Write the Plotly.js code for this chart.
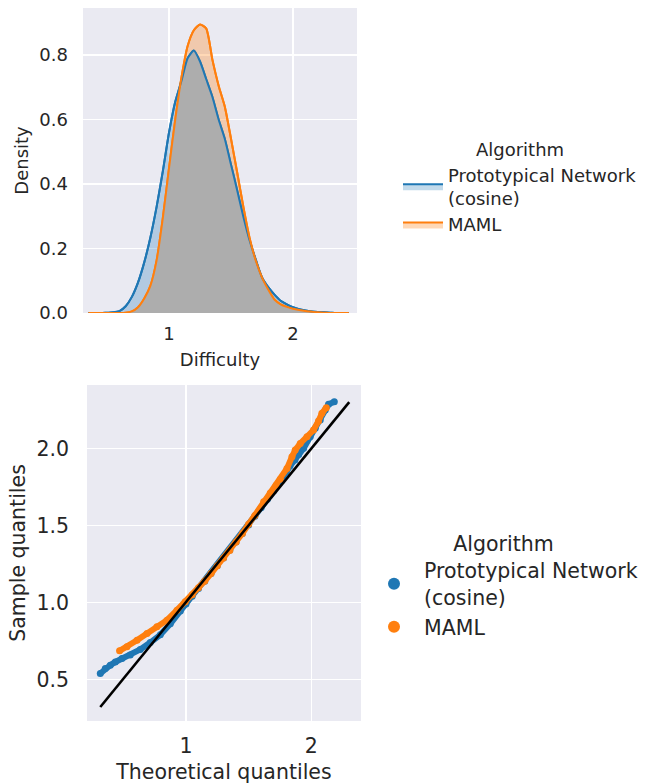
<!DOCTYPE html>
<html><head><meta charset="utf-8">
<script src="https://cdn.plot.ly/plotly-3.0.1.min.js"></script>
<style>html,body{margin:0;padding:0;background:#fff}</style>
</head><body><div id="chart" style="width:650px;height:784px"></div>
<script>
// ---- Top panel: KDE of difficulty ----
const difficultyGrid = [0.35,0.40,0.45,0.50,0.55,0.60,0.65,0.70,0.75,0.80,0.85,0.90,0.95,1.00,1.05,1.10,1.15,1.20,1.25,1.30,1.35,1.40,1.45,1.50,1.55,1.60,1.65,1.70,1.75,1.80,1.85,1.90,1.95,2.00,2.05,2.10,2.15,2.20,2.25,2.30,2.35,2.40,2.45];
const protoDensity = [0.000,0.000,0.000,0.001,0.002,0.006,0.021,0.050,0.095,0.157,0.235,0.330,0.440,0.560,0.655,0.720,0.790,0.814,0.780,0.725,0.670,0.600,0.540,0.460,0.380,0.298,0.225,0.165,0.110,0.080,0.057,0.038,0.027,0.018,0.012,0.008,0.005,0.003,0.002,0.001,0.000,0.000,0.000];
const mamlDensity  = [0.000,0.000,0.000,0.000,0.000,0.000,0.001,0.005,0.018,0.045,0.085,0.164,0.295,0.450,0.600,0.730,0.828,0.877,0.895,0.882,0.785,0.705,0.640,0.540,0.435,0.328,0.232,0.162,0.110,0.073,0.042,0.027,0.019,0.013,0.009,0.006,0.004,0.002,0.001,0.000,0.000,0.000,0.000];

// ---- Bottom panel: Q-Q plot ----
const protoTheoretical = [0.316,0.356,0.396,0.436,0.489,0.555,0.635,0.715,0.795,0.875,0.955,1.00,1.05,1.10,1.15,1.20,1.25,1.30,1.35,1.40,1.45,1.50,1.55,1.60,1.65,1.70,1.75,1.80,1.83,1.87,1.90,1.939,1.992,2.032,2.072,2.112,2.138,2.184];
const protoSample      = [0.539,0.571,0.593,0.614,0.636,0.660,0.695,0.740,0.790,0.862,0.945,0.990,1.040,1.090,1.138,1.188,1.238,1.288,1.340,1.392,1.447,1.503,1.560,1.615,1.670,1.725,1.780,1.845,1.885,1.925,1.960,2.000,2.075,2.130,2.184,2.249,2.286,2.303];
const mamlTheoretical  = [0.47,0.529,0.609,0.689,0.768,0.848,0.928,0.994,1.05,1.10,1.15,1.20,1.25,1.30,1.35,1.40,1.45,1.50,1.55,1.62,1.673,1.72,1.753,1.806,1.846,1.872,1.912,1.966,2.018,2.058,2.085,2.12];
const mamlSample       = [0.686,0.712,0.755,0.799,0.842,0.885,0.950,1.004,1.050,1.095,1.140,1.188,1.238,1.288,1.338,1.392,1.448,1.508,1.565,1.653,1.710,1.760,1.800,1.870,1.945,1.989,2.032,2.075,2.119,2.177,2.227,2.264];
const refLineX = [0.316, 2.303];
const refLineY = [0.322, 2.300];

const seriesNames = ['Prototypical Network<br>(cosine)', 'MAML'];
const legendTitle = 'Algorithm';

const BLUE = '#1f77b4', ORANGE = '#ff7f0e';
const overlap = protoDensity.map((v, i) => Math.min(v, mamlDensity[i]));
const SPL = {shape: 'spline', smoothing: 0.6};

const traces = [
  {x: difficultyGrid, y: protoDensity, type: 'scatter', mode: 'lines', fill: 'tozeroy', name: seriesNames[0],
   fillcolor: 'rgba(31,119,180,0.27)', line: Object.assign({color: BLUE, width: 2}, SPL), legend: 'legend', xaxis: 'x', yaxis: 'y'},
  {x: difficultyGrid, y: mamlDensity, type: 'scatter', mode: 'lines', fill: 'tozeroy', name: seriesNames[1],
   fillcolor: 'rgba(255,127,14,0.3)', line: Object.assign({color: ORANGE, width: 2}, SPL), legend: 'legend', xaxis: 'x', yaxis: 'y'},
  {x: difficultyGrid, y: overlap, type: 'scatter', mode: 'none', fill: 'tozeroy',
   fillcolor: 'rgb(173,173,173)', line: SPL, showlegend: false, hoverinfo: 'skip', xaxis: 'x', yaxis: 'y'},
  {x: difficultyGrid, y: protoDensity, type: 'scatter', mode: 'lines', showlegend: false,
   line: Object.assign({color: BLUE, width: 2}, SPL), xaxis: 'x', yaxis: 'y'},
  {x: difficultyGrid, y: mamlDensity, type: 'scatter', mode: 'lines', showlegend: false,
   line: Object.assign({color: ORANGE, width: 2}, SPL), xaxis: 'x', yaxis: 'y'},

  {x: protoTheoretical, y: protoSample, type: 'scatter', mode: 'lines', line: {color: BLUE, width: 6},
   showlegend: false, hoverinfo: 'skip', xaxis: 'x2', yaxis: 'y2'},
  {x: protoTheoretical, y: protoSample, type: 'scatter', mode: 'markers', name: seriesNames[0],
   marker: {color: BLUE, size: 7}, legend: 'legend2', xaxis: 'x2', yaxis: 'y2'},
  {x: mamlTheoretical, y: mamlSample, type: 'scatter', mode: 'lines', line: {color: ORANGE, width: 6},
   showlegend: false, hoverinfo: 'skip', xaxis: 'x2', yaxis: 'y2'},
  {x: mamlTheoretical, y: mamlSample, type: 'scatter', mode: 'markers', name: seriesNames[1],
   marker: {color: ORANGE, size: 7}, legend: 'legend2', xaxis: 'x2', yaxis: 'y2'},
  {x: refLineX, y: refLineY, type: 'scatter', mode: 'lines', line: {color: '#000', width: 2.6},
   showlegend: false, hoverinfo: 'skip', xaxis: 'x2', yaxis: 'y2'}
];

const TXT = '#262626';
const axBase = {showgrid: true, gridcolor: '#ffffff', gridwidth: 1.3, zeroline: false, showline: false,
  ticks: '', tickcolor: TXT, automargin: false};

const layout = {
  width: 650, height: 784,
  margin: {l: 0, r: 0, t: 0, b: 0},
  paper_bgcolor: '#ffffff', plot_bgcolor: '#eaeaf2',
  font: {family: 'DejaVu Sans', color: TXT, size: 18},
  xaxis: Object.assign({}, axBase, {domain: [83/650, 357/650], anchor: 'y', range: [0.306, 2.516],
    tickvals: [1, 2], tickfont: {size: 18}, ticklabelstandoff: 8,
    title: {text: 'Difficulty', font: {size: 18}, standoff: 10}}),
  yaxis: Object.assign({}, axBase, {domain: [1 - 313/784, 1 - 8/784], anchor: 'x', range: [0, 0.946],
    tickvals: [0, 0.2, 0.4, 0.6, 0.8], tickformat: '.1f', tickfont: {size: 18}, ticklabelstandoff: 14,
    title: {text: 'Density', font: {size: 18}, standoff: 6}}),
  xaxis2: Object.assign({}, axBase, {domain: [87/650, 361/650], anchor: 'y2', range: [0.21, 2.397],
    tickvals: [1, 2], tickfont: {size: 20.5}, ticklabelstandoff: 10,
    title: {text: 'Theoretical quantiles', font: {size: 20.5}, standoff: 9}}),
  yaxis2: Object.assign({}, axBase, {domain: [1 - 721/784, 1 - 385/784], anchor: 'x2', range: [0.231, 2.411],
    tickvals: [0.5, 1.0, 1.5, 2.0], tickformat: '.1f', tickfont: {size: 20.5}, ticklabelstandoff: 17,
    title: {text: 'Sample quantiles', font: {size: 20.5}, standoff: 5}}),
  legend: {x: 398/650, xanchor: 'left', y: 1 - 133/784, yanchor: 'top', bgcolor: 'rgba(0,0,0,0)',
    font: {size: 18}, itemwidth: 40, title: {text: legendTitle, side: 'top center', font: {size: 18}}},
  legend2: {x: 364/650, xanchor: 'left', y: 1 - 524/784, yanchor: 'top', bgcolor: 'rgba(0,0,0,0)',
    font: {size: 20.5}, itemsizing: 'constant', itemwidth: 50, title: {text: legendTitle, side: 'top center', font: {size: 20.5}}},
  showlegend: true
};

Plotly.newPlot('chart', traces, layout, {staticPlot: true, displayModeBar: false});
</script></body></html>
